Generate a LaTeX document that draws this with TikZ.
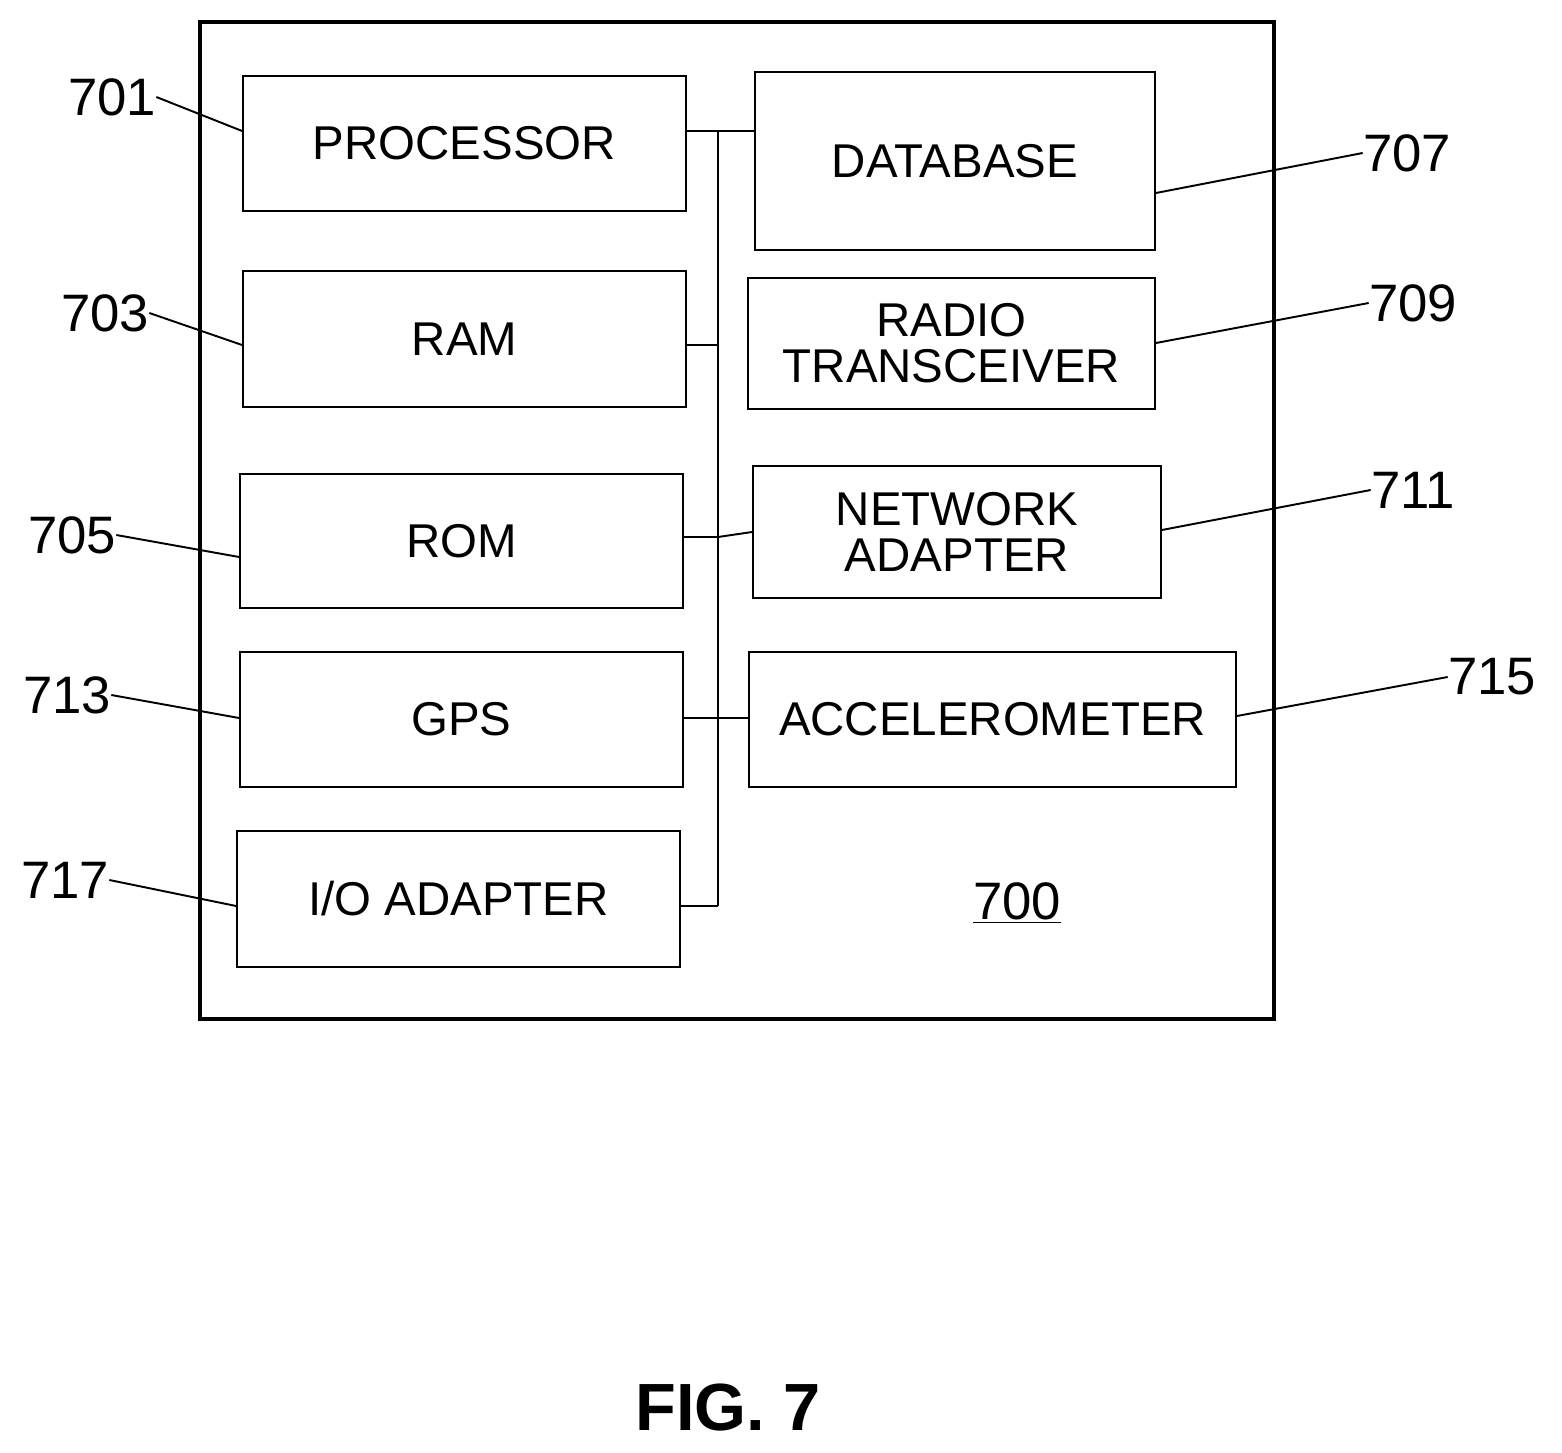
\documentclass[tikz,border=0pt]{standalone}
\usepackage{fontspec}
\setmainfont{Liberation Sans}
\usetikzlibrary{positioning}
\begin{document}
\begin{tikzpicture}[x=0.02cm,y=-0.02cm,
  blk/.style={draw,line width=1.1pt,inner sep=0pt,font=\fontsize{27}{30}\selectfont,align=center},
  num/.style={font=\fontsize{30}{32}\selectfont,inner sep=0pt},
  lead/.style={line width=1.1pt}]
\useasboundingbox (0,0) rectangle (1562,1453);
\draw[line width=1.8pt] (200,22) rectangle (1274,1019);
% left column
\node[blk,minimum width=8.86cm,minimum height=2.7cm] (proc) at (464.5,143.5) {PROCESSOR};
\node[blk,minimum width=8.86cm,minimum height=2.72cm] (ram) at (464.5,339) {RAM};
\node[blk,minimum width=8.86cm,minimum height=2.68cm] (rom) at (461.5,541) {ROM};
\node[blk,minimum width=8.86cm,minimum height=2.7cm] (gps) at (461.5,719.5) {GPS};
\node[blk,minimum width=8.86cm,minimum height=2.72cm] (io) at (458.5,899) {I/O ADAPTER};
% right column
\node[blk,minimum width=8cm,minimum height=3.56cm] (db) at (955,161) {DATABASE};
\node[blk,minimum width=8.14cm,minimum height=2.62cm] (radio) at (951.5,343.5) {RADIO\\[-4pt]TRANSCEIVER};
\node[blk,minimum width=8.16cm,minimum height=2.64cm] (net) at (957,532) {NETWORK\\[-4pt]ADAPTER};
\node[blk,minimum width=9.74cm,minimum height=2.7cm] (acc) at (992.5,719.5) {ACCELEROMETER};
% bus
\coordinate (bt) at (718,131);
\coordinate (bb) at (718,906);
\draw[lead] (bt) -- (bb);
\draw[lead] (proc.east |- bt) -- (db.west |- bt);
\draw[lead] (ram.east |- 0,345) -- (718,345);
\draw[lead] (rom.east |- 0,537) -- (718,537) -- (net.west |- 0,532);
\draw[lead] (gps.east |- 0,718) -- (acc.west |- 0,718);
\draw[lead] (io.east |- bb) -- (bb);
% reference numerals
\node[num] (n701) at (112,97) {701};
\node[num] (n703) at (105,313) {703};
\node[num] (n705) at (72,535) {705};
\node[num] (n713) at (67,695) {713};
\node[num] (n717) at (65,880) {717};
\node[num] (n707) at (1407,153) {707};
\node[num] (n709) at (1413,303) {709};
\node[num] (n711) at (1413,490) {711};
\node[num] (n715) at (1492,677) {715};
\draw[lead] (n701.east) -- (proc.west |- 0,131);
\draw[lead] (n703.east) -- (ram.west |- 0,345);
\draw[lead] (n705.east) -- (rom.west |- 0,557);
\draw[lead] (n713.east) -- (gps.west |- 0,718);
\draw[lead] (n717.east) -- (io.west |- 0,906);
\draw[lead] (n707.west) -- (db.east |- 0,193);
\draw[lead] (n709.west) -- (radio.east |- 0,343);
\draw[lead] (n711.west) -- (net.east |- 0,530);
\draw[lead] (n715.west) -- (acc.east |- 0,716);
\node[num] (n700) at (1017,903) {\underline{700}};
\node[font=\fontsize{38}{40}\selectfont\bfseries] (fig) at (728,1408) {FIG. 7};
\end{tikzpicture}
\end{document}
